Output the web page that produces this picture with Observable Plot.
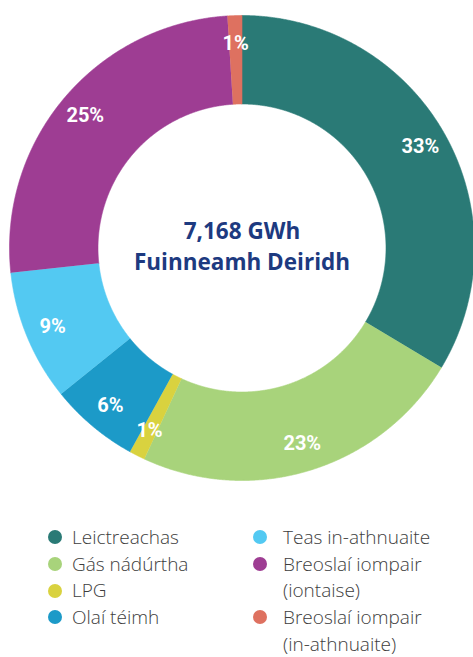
<!DOCTYPE html>
<html><head><meta charset="utf-8">
<script src="https://cdn.jsdelivr.net/npm/d3@7"></script>
<script src="https://cdn.jsdelivr.net/npm/@observablehq/plot@0.6"></script>
<style>
body{margin:0;background:#fff;}
#chart{width:473px;height:510px;}
#legend{position:relative;width:473px;height:147px;font-family:"Open Sans","Noto Sans",sans-serif;font-weight:300;font-size:19px;color:#3d3d3d;}
.col{position:absolute;top:14.2px;}
.item{position:relative;line-height:26.6px;}
.dot{position:absolute;width:14px;height:14px;border-radius:50%;top:6.3px;}
</style></head><body>
<div id="chart"></div>
<div id="legend"></div>
<script>
const categories = ["Leictreachas","Gás nádúrtha","LPG","Olaí téimh","Teas in-athnuaite","Breoslaí iompair (iontaise)","Breoslaí iompair (in-athnuaite)"];
const shares = [33.6, 23.3, 1.1, 6.2, 9.1, 25.7, 1.0];
const labels = ["33%","23%","1%","6%","9%","25%","1%"];
const colors = ["#2a7a76","#a8d37b","#d9d23f","#1c9ac8","#53c9f2","#9e3d93","#de7160"];
const centerLines = ["7,168 GWh","Fuinneamh Deiridh"];
const legendCol1 = [0,1,2,3];
const legendCol2 = [4,5,6];
const legendText = ["Leictreachas","Gás nádúrtha","LPG","Olaí téimh","Teas in-athnuaite","Breoslaí iompair<br>(iontaise)","Breoslaí iompair<br>(in-athnuaite)"];

const W = 473, H = 510, cx = 241.5, cy = 247.5, Rpx = 232.5;
const innerR = 144 / Rpx;
const pie = d3.pie().sort(null).value(d => d)(shares);
const pts = [];
pie.forEach((p, i) => {
  const n = Math.max(6, Math.ceil((p.endAngle - p.startAngle) / 0.004));
  for (let k = 0; k <= n; k++) {
    const a = p.startAngle + (p.endAngle - p.startAngle) * k / n;
    pts.push({cat: categories[i], x: Math.sin(a), y: Math.cos(a)});
  }
  for (let k = n; k >= 0; k--) {
    const a = p.startAngle + (p.endAngle - p.startAngle) * k / n;
    pts.push({cat: categories[i], x: innerR * Math.sin(a), y: innerR * Math.cos(a)});
  }
});
const labelR = 205 / Rpx;
const labelData = pie.map((p, i) => {
  const m = (p.startAngle + p.endAngle) / 2;
  return {text: labels[i], x: labelR * Math.sin(m), y: labelR * Math.cos(m)};
});

const chart = Plot.plot({
  width: W, height: H,
  margin: 0,
  x: {domain: [-cx / Rpx, (W - cx) / Rpx], axis: null},
  y: {domain: [-(H - cy) / Rpx, cy / Rpx], axis: null},
  color: {domain: categories, range: colors},
  style: {background: "white"},
  marks: [
    Plot.line(pts, {x: "x", y: "y", z: "cat", fill: "cat", stroke: "cat", strokeWidth: 0.6, curve: "linear"}),
    Plot.text(labelData, {x: "x", y: "y", text: "text", fill: "white", fontSize: 20, fontWeight: "bold",
      fontFamily: "Roboto,'Liberation Sans',sans-serif"}),
    Plot.text([centerLines.join("\n")], {x: () => 0, y: () => 0, text: d => d, fill: "#1d3a80", fontSize: 22.5,
      fontWeight: "bold", lineHeight: 1.38, dy: -3, fontFamily: "'Open Sans','Noto Sans',sans-serif"})
  ]
});
document.getElementById("chart").appendChild(chart);

const legend = document.getElementById("legend");
function col(idx, dotLeft, textLeft) {
  const c = document.createElement("div");
  c.className = "col";
  c.style.left = "0px";
  idx.forEach(i => {
    const it = document.createElement("div");
    it.className = "item";
    it.style.paddingLeft = textLeft + "px";
    it.innerHTML = `<span class="dot" style="left:${dotLeft}px;background:${colors[i]}"></span>${legendText[i]}`;
    c.appendChild(it);
  });
  legend.appendChild(c);
}
col(legendCol1, 48, 72);
col(legendCol2, 253, 283);
</script>
</body></html>
